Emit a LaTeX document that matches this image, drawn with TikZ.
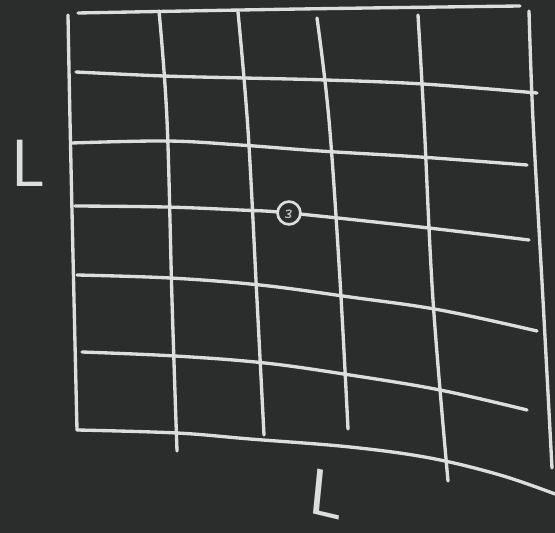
\documentclass[tikz,border=0pt]{standalone}
\begin{document}
\begin{tikzpicture}[x=0.02cm,y=-0.02cm]
\definecolor{board}{HTML}{2B2C2C}
\definecolor{chalk}{HTML}{DCDEDC}
\tikzset{chalkline/.style={draw=chalk,line width=1.9pt,line cap=round,line join=round},
  chalktext/.style={text=chalk,font=\sffamily\fontsize{38}{40}\selectfont,inner sep=0pt}}
\fill[board] (0,0) rectangle (555,533);
\useasboundingbox (0,0) rectangle (555,533);
% horizontal lines
\draw[chalkline] plot[smooth,tension=0.6] coordinates {(78,13) (300,9) (520,6)};
\draw[chalkline] plot[smooth,tension=0.6] coordinates {(76,72) (164,76) (244,78) (326,80) (423,84) (537,93)};
\draw[chalkline] plot[smooth,tension=0.6] coordinates {(72,143) (167,141) (240,145) (320,151) (420,157) (527,165)};
\draw[chalkline] plot[smooth,tension=0.6] coordinates {(75,206) (165,207) (240,210) (289,213) (420,227) (529,240)};
\draw[chalkline] plot[smooth,tension=0.6] coordinates {(77,275) (170,278) (260,285) (350,297) (440,310) (537,331)};
\draw[chalkline] plot[smooth,tension=0.6] coordinates {(82,352) (175,356) (265,363) (350,375) (440,390) (527,410)};
\draw[chalkline] plot[smooth,tension=0.6] coordinates {(77,430) (177,433) (250,439) (350,447) (430,458) (500,475) (555,494)};
% vertical lines
\draw[chalkline] plot[smooth,tension=0.6] coordinates {(68,15) (70,120) (74,300) (77,430)};
\draw[chalkline] plot[smooth,tension=0.6] coordinates {(159,11) (167,120) (172,300) (177,451)};
\draw[chalkline] plot[smooth,tension=0.6] coordinates {(238,12) (248,130) (257,300) (264,435)};
\draw[chalkline] plot[smooth,tension=0.6] coordinates {(317,18) (329,120) (340,280) (348,429)};
\draw[chalkline] plot[smooth,tension=0.6] coordinates {(418,15) (424,120) (433,300) (448,481)};
\draw[chalkline] plot[smooth,tension=0.6] coordinates {(529,11) (533,120) (543,300) (552,468)};
% centre mark
\node[circle,draw=chalk,fill=board,line width=1.5pt,minimum size=13pt,inner sep=0pt] (dot) at (289,213) {};
\draw[draw=chalk!80!board,line width=0.7pt] (286,211) .. controls (292,208) and (293,213) .. (288,214) .. controls (293,215) and (291,219) .. (285,217);
% labels
\node[chalktext] (lleft) at (28,163) {L};
\node[chalktext,xslant=-0.15,rotate=-14] (lbottom) at (327,494) {L};
\end{tikzpicture}
\end{document}
